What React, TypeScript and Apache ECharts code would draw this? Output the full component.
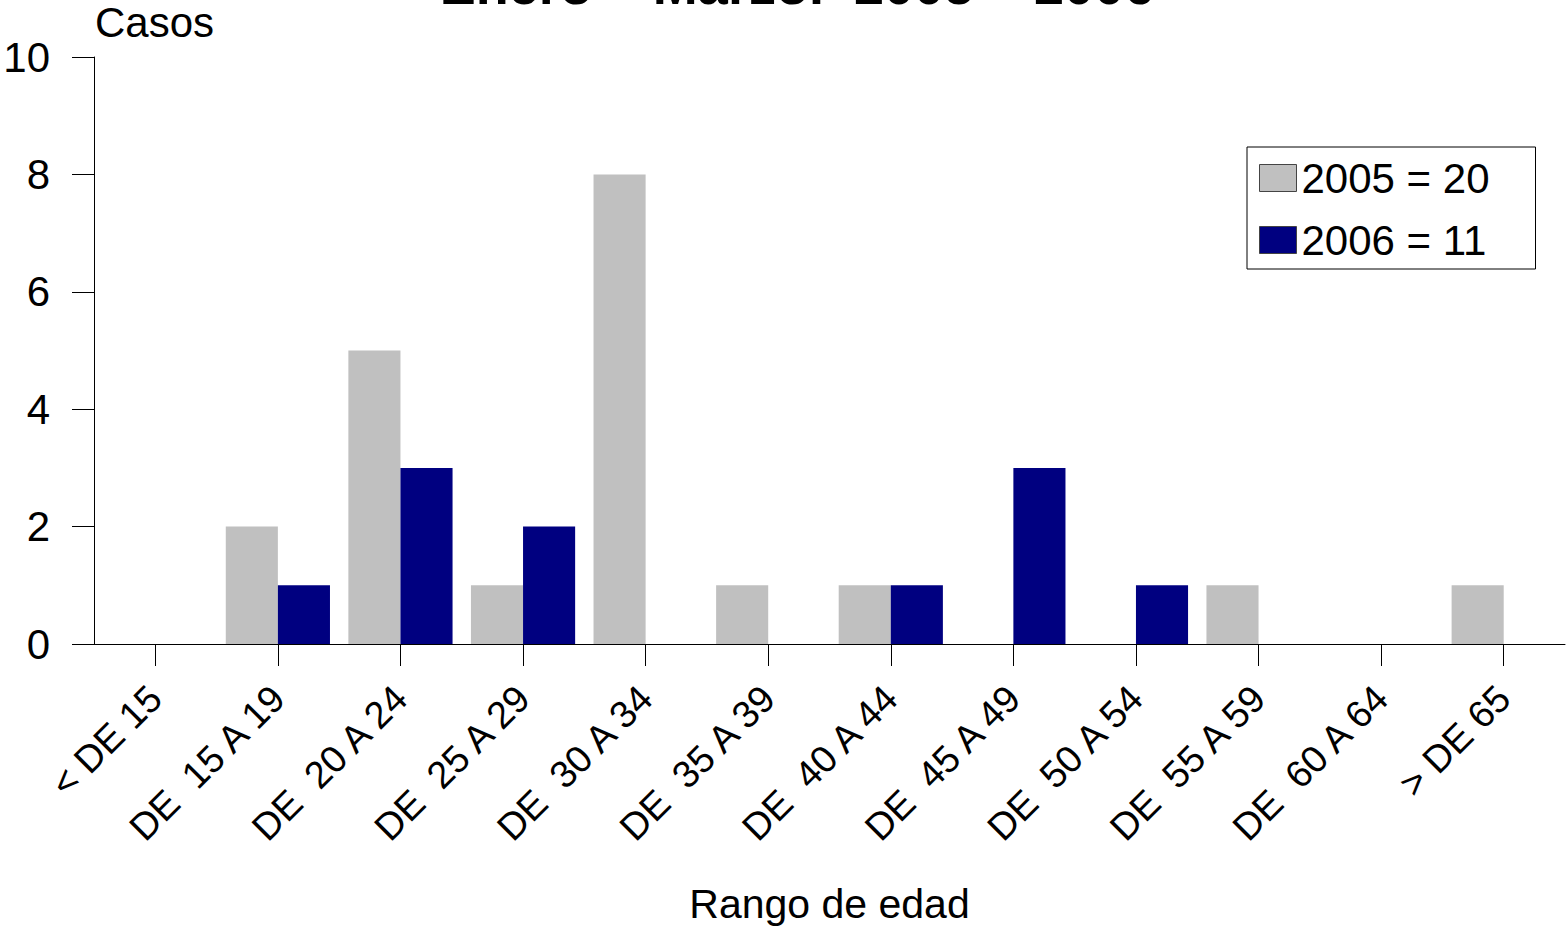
import React, { useEffect, useRef } from "react";
import * as echarts from "echarts";

const categories = [
  "< DE 15",
  "DE  15 A 19",
  "DE  20 A 24",
  "DE  25 A 29",
  "DE  30 A 34",
  "DE  35 A 39",
  "DE  40 A 44",
  "DE  45 A 49",
  "DE  50 A 54",
  "DE  55 A 59",
  "DE  60 A 64",
  "> DE 65",
];
const values2005 = [0, 2, 5, 1, 8, 1, 1, 0, 0, 1, 0, 1];
const values2006 = [0, 1, 3, 2, 0, 0, 1, 3, 1, 0, 0, 0];
const seriesNames = ["2005 = 20", "2006 = 11"];
const yTicks = { min: 0, max: 10, interval: 2 };
const titleText = "Enero – Marzo.  2005 – 2006";
const yName = "Casos";
const xName = "Rango de edad";

const FONT = "'Liberation Sans', Arial, sans-serif";

export default function App() {
  const ref = useRef<HTMLDivElement>(null);
  useEffect(() => {
    if (!ref.current) return;
    const chart = echarts.init(ref.current, undefined, { renderer: "svg" });
    chart.setOption({
      animation: false,
      backgroundColor: "#fff",
      textStyle: { fontFamily: FONT, color: "#000" },
      grid: {
        left: 94,
        right: 1,
        top: 57,
        bottom: 285,
        containLabel: false,
        outerBoundsMode: "none",
      },
      legend: {
        orient: "vertical",
        left: 1247,
        top: 147,
        padding: [10, 46, 8, 12],
        borderColor: "#000",
        borderWidth: 1,
        icon: "rect",
        itemWidth: 37,
        itemHeight: 27,
        itemGap: 20,
        itemStyle: { borderColor: "#444", borderWidth: 1 },
        textStyle: { fontSize: 42, color: "#000", fontFamily: FONT, lineHeight: 42 },
        data: seriesNames,
      },
      xAxis: {
        type: "category",
        data: categories,
        name: xName,
        nameLocation: "middle",
        nameGap: 239,
        nameTextStyle: { fontSize: 41, color: "#000", fontFamily: FONT },
        axisLine: { show: true, lineStyle: { color: "#000", width: 1 } },
        axisTick: { show: true, alignWithLabel: true, length: 22, lineStyle: { color: "#000" } },
        axisLabel: {
          rotate: 45,
          fontSize: 38,
          color: "#000",
          fontFamily: FONT,
          margin: 48,
          interval: 0,
        },
        splitLine: { show: false },
      },
      yAxis: {
        type: "value",
        min: yTicks.min,
        max: yTicks.max,
        interval: yTicks.interval,
        axisLine: { show: true, lineStyle: { color: "#000", width: 1 } },
        axisTick: { show: true, length: 22, lineStyle: { color: "#000" } },
        axisLabel: { fontSize: 42, color: "#000", fontFamily: FONT, margin: 44 },
        splitLine: { show: false },
      },
      graphic: [
        {
          type: "text",
          x: 797,
          y: 12,
          style: {
            text: titleText,
            x: 0,
            y: 0,
            fontSize: 54,
            fontWeight: "bold",
            fontFamily: FONT,
            fill: "#000",
            align: "center",
            verticalAlign: "bottom",
          },
        },
        {
          type: "text",
          x: 95,
          y: 1,
          style: {
            text: yName,
            fontSize: 42,
            fontFamily: FONT,
            fill: "#000",
            align: "left",
            verticalAlign: "top",
          },
        },
      ],
      series: [
        {
          name: seriesNames[0],
          type: "bar",
          data: values2005,
          barWidth: "42.5%",
          barGap: "0%",
          itemStyle: { color: "#C0C0C0" },
        },
        {
          name: seriesNames[1],
          type: "bar",
          data: values2006,
          barWidth: "42.5%",
          barGap: "0%",
          itemStyle: { color: "#000080" },
        },
      ],
    });
    return () => chart.dispose();
  }, []);
  return <div ref={ref} style={{ width: 1566, height: 929, position: "absolute", left: 0, top: 0 }} />;
}
